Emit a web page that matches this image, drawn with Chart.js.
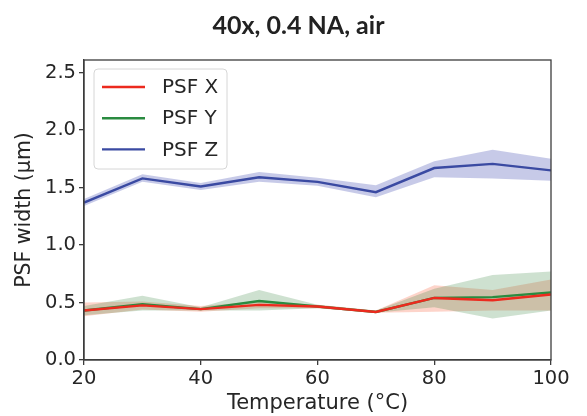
<!DOCTYPE html>
<html>
<head>
<meta charset="utf-8">
<script src="https://cdn.jsdelivr.net/npm/chart.js@4"></script>
<style>
html,body{margin:0;padding:0;background:#fff;}
#wrap{width:587px;height:416px;position:relative;}
</style>
</head>
<body>
<div id="wrap"><canvas id="c"></canvas></div>
<script>
const chartTitle = '40x, 0.4 NA, air';
const xTitle = 'Temperature (°C)';
const yTitle = 'PSF width (µm)';
const temps = [20, 30, 40, 50, 60, 70, 80, 90, 100];
const seriesNames = ['PSF X', 'PSF Y', 'PSF Z'];
const psfX = [0.43, 0.475, 0.443, 0.48, 0.465, 0.418, 0.54, 0.52, 0.57];
const psfY = [0.43, 0.485, 0.443, 0.513, 0.465, 0.418, 0.54, 0.547, 0.587];
const psfZ = [1.37, 1.58, 1.51, 1.59, 1.55, 1.46, 1.67, 1.706, 1.65];
const psfXUpper = [0.50, 0.51, 0.47, 0.51, 0.48, 0.43, 0.65, 0.61, 0.70];
const psfXLower = [0.38, 0.44, 0.42, 0.45, 0.45, 0.41, 0.42, 0.43, 0.43];
const psfYUpper = [0.47, 0.56, 0.46, 0.61, 0.48, 0.43, 0.62, 0.74, 0.77];
const psfYLower = [0.39, 0.43, 0.43, 0.43, 0.45, 0.41, 0.46, 0.36, 0.43];
const psfZUpper = [1.40, 1.615, 1.54, 1.635, 1.585, 1.52, 1.73, 1.83, 1.75];
const psfZLower = [1.34, 1.55, 1.48, 1.55, 1.515, 1.415, 1.59, 1.58, 1.56];
const yTicks = [0, 0.5, 1.0, 1.5, 2.0, 2.5];

const lineColors = ['#ec2a1e', '#2a8b40', '#3a4aa2'];
const bandColors = ['rgba(250,120,90,0.32)', 'rgba(50,130,60,0.24)', 'rgba(70,80,180,0.3)'];

const pts = (ys) => temps.map((t, i) => ({x: t, y: ys[i]}));
const lineDs = (label, ys, color) => ({
  label, data: pts(ys), borderColor: color, backgroundColor: color,
  borderWidth: 2.4, pointRadius: 0, fill: false, tension: 0, isLine: true
});
const bandDs = (ys, color, fill) => ({
  label: '', data: pts(ys), borderWidth: 0, borderColor: 'rgba(0,0,0,0)',
  backgroundColor: color, pointRadius: 0, fill: fill, tension: 0, isLine: false
});

const datasets = [
  lineDs(seriesNames[0], psfX, lineColors[0]),
  lineDs(seriesNames[1], psfY, lineColors[1]),
  lineDs(seriesNames[2], psfZ, lineColors[2]),
  bandDs(psfYUpper, bandColors[1], '+1'),
  bandDs(psfYLower, bandColors[1], false),
  bandDs(psfXUpper, bandColors[0], '+1'),
  bandDs(psfXLower, bandColors[0], false),
  bandDs(psfZUpper, bandColors[2], '+1'),
  bandDs(psfZLower, bandColors[2], false)
];

const frameColor = '#3c3c3c';

const framePlugin = {
  id: 'frame',
  afterDatasetsDraw(chart) {
    const {ctx, chartArea: a} = chart;
    ctx.save();
    ctx.strokeStyle = frameColor;
    ctx.lineWidth = 1.3;
    ctx.strokeRect(a.left, a.top, a.right - a.left, a.bottom - a.top);
    ctx.restore();
  }
};

const legendPlugin = {
  id: 'insideLegend',
  afterDraw(chart) {
    const {ctx, chartArea: a} = chart;
    const x0 = a.left + 10, y0 = a.top + 9, w = 133, h = 100, r = 4;
    ctx.save();
    ctx.beginPath();
    ctx.roundRect(x0, y0, w, h, r);
    ctx.fillStyle = 'rgba(255,255,255,0.85)';
    ctx.fill();
    ctx.strokeStyle = '#d6d6d6';
    ctx.lineWidth = 1;
    ctx.stroke();
    ctx.font = '20px "DejaVu Sans"';
    ctx.textBaseline = 'middle';
    ctx.textAlign = 'left';
    const lines = chart.data.datasets.filter(d => d.isLine);
    lines.forEach((d, i) => {
      const yy = y0 + 18 + i * 31.2;
      ctx.strokeStyle = d.borderColor;
      ctx.lineWidth = 2.4;
      ctx.beginPath();
      ctx.moveTo(x0 + 8, yy);
      ctx.lineTo(x0 + 51, yy);
      ctx.stroke();
      ctx.fillStyle = '#262626';
      ctx.fillText(d.label, x0 + 68, yy + 1);
    });
    ctx.restore();
  }
};

new Chart(document.getElementById('c'), {
  type: 'line',
  data: {datasets},
  options: {
    responsive: true,
    maintainAspectRatio: false,
    animation: false,
    events: [],
    layout: {padding: {left: 10, right: 0, top: 0, bottom: 0}},
    plugins: {
      legend: {display: false},
      tooltip: {enabled: false},
      title: {
        display: true,
        text: chartTitle,
        color: '#222',
        font: {family: 'Lato', weight: 'bold', size: 25, lineHeight: 1.2},
        padding: {top: 11, bottom: 19}
      }
    },
    scales: {
      x: {
        type: 'linear',
        min: 20, max: 100,
        afterFit(s) { s.height = 56; },
        ticks: {stepSize: 20, color: '#262626', padding: 2,
          font: {family: 'DejaVu Sans', size: 19.5}, maxRotation: 0},
        grid: {drawOnChartArea: false, drawTicks: true, tickLength: 5, color: frameColor, lineWidth: 1.3},
        border: {display: true, color: frameColor, width: 1.3},
        title: {display: true, text: xTitle, color: '#262626',
          font: {family: 'DejaVu Sans', size: 21, lineHeight: 1.2}, padding: {top: 0, bottom: 0}}
      },
      y: {
        type: 'linear',
        position: 'left',
        min: 0, max: 2.61,
        afterFit(s) { s.width = 74; },
        afterBuildTicks(s) { s.ticks = yTicks.map(v => ({value: v})); },
        ticks: {color: '#262626', padding: 3,
          font: {family: 'DejaVu Sans', size: 19.5},
          callback: (v) => Number(v).toFixed(1)},
        grid: {drawOnChartArea: false, drawTicks: true, tickLength: 5, color: frameColor, lineWidth: 1.3},
        border: {display: true, color: frameColor, width: 1.3},
        title: {display: true, text: yTitle, color: '#262626',
          font: {family: 'DejaVu Sans', size: 20.5, lineHeight: 1.2}, padding: {top: 2, bottom: 0}}
      },
      yRight: {
        type: 'linear',
        position: 'right',
        display: true,
        afterFit(s) { s.width = 36; },
        ticks: {display: false},
        grid: {display: false},
        border: {display: false}
      }
    }
  },
  plugins: [framePlugin, legendPlugin]
});
</script>
</body>
</html>
